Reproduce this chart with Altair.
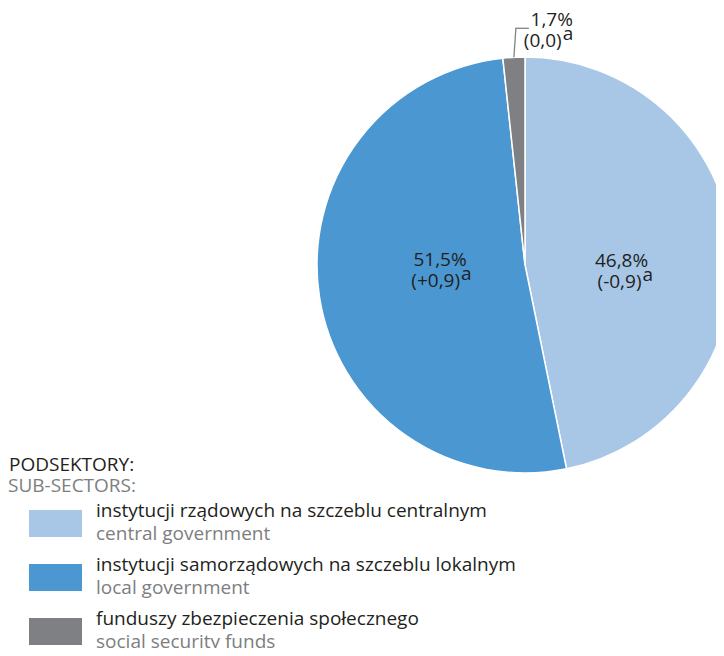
import math
import altair as alt
import pandas as pd

# ---------------- data ----------------
categories_pl = [
    "instytucji rządowych na szczeblu centralnym",
    "instytucji samorządowych na szczeblu lokalnym",
    "funduszy zbezpieczenia społecznego",
]
categories_en = ["central government", "local government", "social security funds"]
shares = [46.8, 51.5, 1.7]
changes = [-0.9, 0.9, 0.0]
footnote = "a"
legend_title_pl = "PODSEKTORY:"
legend_title_en = "SUB-SECTORS:"

# ---------------- style / layout ----------------
colors = ["#a8c7e7", "#4a97d2", "#7f8083"]
TXT = "#231f20"
GRAY_TXT = "#7d7e80"
FONT = "Open Sans"
FS = 19
W, H = 708, 640
CX, CY, R = 517, 257, 208
# per-slice label placement: (radius, dx, dy, end of 2nd line relative to centre)
label_layout = [(97, 0, 12, 20), (88, 2, -12, 20), (230, 39, -9, 10)]
leader_rise, leader_lean, leader_run = 29, 2, 13


def fmt_share(v):
    return f"{v:.1f}".replace(".", ",") + "%"


def fmt_change(v):
    s = f"{abs(v):.1f}".replace(".", ",")
    if v > 0:
        s = "+" + s
    elif v < 0:
        s = "-" + s
    return f"({s})"


total = sum(shares)
mids, cum = [], 0.0
for v in shares:
    mids.append(cum + v / 2)
    cum += v

df = pd.DataFrame({
    "key": categories_en,
    "pl": categories_pl,
    "en": categories_en,
    "value": shares,
    "order": list(range(len(shares))),
    "mid": mids,
    "share_lbl": [fmt_share(v) for v in shares],
    "change_lbl": [fmt_change(v) for v in changes],
    "sup": [footnote] * len(shares),
})

base = alt.Chart(df)
color = alt.Color("key:N", scale=alt.Scale(domain=categories_en, range=colors), legend=None)
theta_scale = alt.Scale(domain=[0, total])

pie = base.mark_arc(outerRadius=R, stroke="white", strokeWidth=1.5).encode(
    theta=alt.Theta("value:Q", stack=True, scale=theta_scale),
    color=color,
    order=alt.Order("order:Q"),
    x=alt.value(CX),
    y=alt.value(CY),
)

layers = [pie]
for i, (r, dx, dy, end) in enumerate(label_layout):
    sel = base.transform_filter(alt.datum.order == i)
    enc = dict(
        theta=alt.Theta("mid:Q", stack=None, scale=theta_scale),
        x=alt.value(CX),
        y=alt.value(CY),
    )
    common = dict(radius=r, font=FONT, fontSize=FS, color=TXT, baseline="alphabetic")
    layers.append(sel.mark_text(dx=dx, dy=dy, align="center", **common).encode(text="share_lbl:N", **enc))
    layers.append(sel.mark_text(dx=dx + end, dy=dy + 21, align="right", **common).encode(text="change_lbl:N", **enc))
    layers.append(sel.mark_text(dx=dx + end + 1, dy=dy + 14, align="left", **common).encode(text="sup:N", **enc))

# leader line for the small slice, derived from its mid angle
small = len(shares) - 1
ang = mids[small] / total * 2 * math.pi
sx, sy = CX + R * math.sin(ang), CY - R * math.cos(ang)
ex, ey = sx + leader_lean, sy - leader_rise
leader_sel = base.transform_filter(alt.datum.order == small)
layers.append(leader_sel.mark_rule(color="#808285", strokeWidth=1.3).encode(
    x=alt.value(sx), y=alt.value(sy), x2=alt.value(ex), y2=alt.value(ey)))
layers.append(leader_sel.mark_rule(color="#808285", strokeWidth=1.3).encode(
    x=alt.value(ex - 0.6), y=alt.value(ey), x2=alt.value(ex + leader_run), y2=alt.value(ey)))

# legend
legend_y = alt.Y(
    "key:N",
    scale=alt.Scale(domain=categories_en, range=[488.5, 650.5], paddingInner=0.5, paddingOuter=0.25),
    axis=None,
)
layers.append(base.mark_rect().encode(y=legend_y, x=alt.value(21), x2=alt.value(74), color=color))
layers.append(base.mark_text(align="left", baseline="alphabetic", font=FONT, fontSize=FS, color=TXT, dy=-6.5).encode(
    y=legend_y, x=alt.value(88), text="pl:N"))
layers.append(base.mark_text(align="left", baseline="alphabetic", font=FONT, fontSize=FS, color=GRAY_TXT, dy=16.5).encode(
    y=legend_y, x=alt.value(88), text="en:N"))

head = alt.Chart(pd.DataFrame({"pl": [legend_title_pl], "en": [legend_title_en]}))
layers.append(head.mark_text(align="left", baseline="alphabetic", font=FONT, fontSize=FS, color=TXT).encode(
    x=alt.value(1), y=alt.value(463), text="pl:N"))
layers.append(head.mark_text(align="left", baseline="alphabetic", font=FONT, fontSize=FS, color=GRAY_TXT).encode(
    x=alt.value(0), y=alt.value(484), text="en:N"))

chart = alt.layer(*layers).properties(
    width=W, height=H, autosize=alt.AutoSizeParams(type="none"), padding=0
).configure_view(stroke=None)

chart.save("out.html", embed_options={"renderer": "svg", "actions": False})
